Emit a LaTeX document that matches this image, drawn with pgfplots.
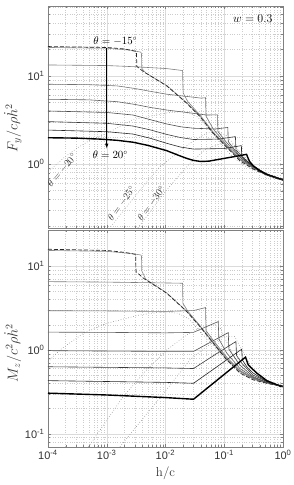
\documentclass[border=0pt]{standalone}
\usepackage{pgfplots}
\pgfplotsset{compat=1.18}
\usepackage{fontspec}
\newfontfamily\ticksf{Liberation Sans}
\pgfplotsset{
  mystyle/.style={
    scale only axis, width=235bp,
    xmin=1e-4, xmax=1,
    grid=both,
    major grid style={black!14, line width=0.45pt},
    minor grid style={black!20, dotted, line width=0.4pt},
    axis line style={black!50},
    tick style={black!50},
    tick align=inside,
    major tick length=3bp, minor tick length=1.6bp,
    xticklabel={\pgfmathtruncatemacro\e{round(\tick/ln(10))}10\textsuperscript{\e}},
    yticklabel={\pgfmathtruncatemacro\e{round(\tick/ln(10))}10\textsuperscript{\e}},
    tick label style={font=\ticksf\fontsize{11}{13}\selectfont, black!80},
    ylabel style={font=\fontsize{14}{16}\selectfont, black!80},
    xlabel style={font=\fontsize{13}{15}\selectfont, black!80},
  },
}
\tikzset{
  cA/.style={black!45, line width=0.6pt},
  cB/.style={black!50, line width=0.6pt},
  cC/.style={black!55, line width=0.6pt},
  cD/.style={black!62, line width=0.6pt},
  cE/.style={black!70, line width=0.6pt},
  cF/.style={black!77, line width=0.6pt},
  cG/.style={black!85, line width=0.6pt},
  cH/.style={black, line width=1.4pt},
  dsh/.style={black!85, line width=0.7pt, dash pattern=on 4bp off 2bp},
  dtd/.style={black!45, line width=0.6pt, dotted},
}
\begin{document}
\begin{tikzpicture}
\path[use as bounding box] (0,0) rectangle (294bp,-485bp);
% ---------------- top panel ----------------
\begin{axis}[xmode=log, ymode=log, mystyle, at={(48bp,-227.7bp)}, anchor=south west, height=221.7bp,
  ymin=0.19, ymax=62, xticklabels={},
  ylabel={$F_y/c\rho\dot{h}^2$},
  ylabel style={at={(rel axis cs:-0.15,0.45)}, anchor=center, rotate=0}]
\addplot[dtd] coordinates {(1e-4,0.82) (1.95e-4,1.21) (3.1e-4,1.51) (5.2e-4,1.87) (1e-3,2.23) (2.8e-3,3.2) (0.0105,3.8) (0.02,3.95) (0.034,3.5) (0.057,2.45) (0.085,1.75) (0.143,1.18) (0.24,0.93) (0.5,0.75) (1,0.66)};
\addplot[dtd] coordinates {(1e-3,0.165) (1.06e-3,0.18) (3.7e-3,0.51) (8e-3,0.93) (0.026,1.72) (0.05,2.25) (0.08,2.35) (0.11,2.1) (0.16,1.55) (0.24,1.12) (0.4,0.85) (1,0.66)};
\addplot[dtd] coordinates {(3e-3,0.17) (0.0105,0.51) (0.026,1.02) (0.05,1.5) (0.1,1.75) (0.14,1.65) (0.2,1.3) (0.3,0.98) (0.5,0.78) (1,0.66)};
\addplot[cA] coordinates {(1e-4,21.0) (1e-3,20.6) (2.5e-3,19.6) (3.8e-3,18.6) (3.9e-3,17.8) (3.95e-3,12.2) (4.6e-3,10.8) (0.0105,7.8) (0.023,4.95) (0.0386,3.5) (0.065,2.25) (0.11,1.58) (0.185,1.12) (0.31,0.9) (0.53,0.76) (1,0.665)};
\addplot[cB] coordinates {(1e-4,13.3) (1e-3,13.1) (3e-3,12.7) (0.0105,12.1) (0.0195,11.5) (0.0200,6.4) (0.024,5.1) (0.0386,3.6) (0.065,2.3) (0.11,1.6) (0.185,1.13) (0.31,0.9) (0.53,0.76) (1,0.665)};
\addplot[cC] coordinates {(1e-4,8.04) (5e-4,7.95) (1.5e-3,7.7) (3e-3,7.2) (5.4e-3,6.7) (0.0105,6.2) (0.023,5.85) (0.04,5.6) (0.048,5.65) (0.049,3.5) (0.065,2.5) (0.11,1.65) (0.185,1.15) (0.31,0.91) (0.53,0.77) (1,0.667)};
\addplot[cD] coordinates {(1e-4,5.43) (5e-4,5.35) (1.5e-3,5.1) (3e-3,4.75) (5.4e-3,4.4) (0.0105,4.1) (0.023,3.85) (0.05,3.6) (0.077,3.62) (0.078,2.35) (0.11,1.75) (0.185,1.2) (0.31,0.92) (0.53,0.77) (1,0.667)};
\addplot[cE] coordinates {(1e-4,4.0) (1e-3,3.85) (2.8e-3,3.6) (5.4e-3,3.2) (0.0105,2.85) (0.018,2.65) (0.03,2.55) (0.07,2.5) (0.115,2.6) (0.117,1.8) (0.15,1.45) (0.2,1.15) (0.31,0.93) (0.53,0.77) (1,0.667)};
\addplot[cF] coordinates {(1e-4,3.03) (1e-3,2.9) (2.8e-3,2.7) (5.4e-3,2.45) (0.0105,2.17) (0.018,2.0) (0.03,1.9) (0.08,1.92) (0.155,2.05) (0.158,1.45) (0.2,1.22) (0.25,1.07) (0.31,0.95) (0.53,0.77) (1,0.667)};
\addplot[cG] coordinates {(1e-4,2.43) (1e-3,2.33) (2.8e-3,2.19) (5.4e-3,1.97) (0.0105,1.72) (0.018,1.56) (0.03,1.48) (0.1,1.5) (0.196,1.62) (0.198,1.22) (0.24,1.08) (0.31,0.95) (0.53,0.77) (1,0.667)};
\addplot[cH] coordinates {(1e-4,1.99) (3e-4,1.97) (7.7e-4,1.92) (1.5e-3,1.86) (2.8e-3,1.77) (5e-3,1.63) (0.0105,1.42) (0.016,1.27) (0.023,1.16) (0.03,1.1) (0.04,1.07) (0.055,1.08) (0.074,1.12) (0.143,1.21) (0.24,1.29) (0.25,1.2) (0.27,1.07) (0.31,0.96) (0.4,0.84) (0.53,0.76) (0.75,0.7) (1,0.66)};
\addplot[dsh] coordinates {(1e-4,21.5) (1e-3,21.0) (2e-3,20.2) (3.1e-3,19.0) (3.2e-3,18.6) (3.25e-3,12.8) (4.2e-3,11.2) (0.0105,7.7) (0.023,4.9) (0.0386,3.45) (0.065,2.23) (0.11,1.55) (0.185,1.09) (0.31,0.88) (0.53,0.75) (1,0.66)};
\draw[black, line width=0.6pt, -latex] (axis cs:1e-3,20.8) -- (axis cs:1e-3,1.51);
\node[font=\fontsize{10.5}{12}\selectfont] at (axis cs:1.4e-3,24.5) {$\theta=-15^\circ$};
\node[font=\fontsize{10.5}{12}\selectfont] at (axis cs:1.15e-3,1.27) {$\theta=20^\circ$};
\node[font=\fontsize{10}{11}\selectfont, black!80, rotate=50] at (axis cs:1.75e-4,0.85) {$\theta=-20^\circ$};
\node[font=\fontsize{10}{11}\selectfont, black!80, rotate=54] at (axis cs:1.8e-3,0.36) {$\theta=-25^\circ$};
\node[font=\fontsize{10}{11}\selectfont, black!80, rotate=54] at (axis cs:5.8e-3,0.36) {$\theta=-30^\circ$};
\node[font=\fontsize{13}{15}\selectfont, anchor=north east] at (rel axis cs:0.97,0.975) {$w=0.3$};
\end{axis}
% ---------------- bottom panel ----------------
\begin{axis}[xmode=log, ymode=log, mystyle, at={(48bp,-446.7bp)}, anchor=south west, height=216.7bp,
  ymin=0.07, ymax=27,
  xlabel={h/c},
  ylabel={$M_z/c^2\rho\dot{h}^2$},
  ylabel style={at={(rel axis cs:-0.15,0.433)}, anchor=center, rotate=0}]
\addplot[dtd] coordinates {(1e-4,0.72) (1.6e-4,1.0) (4e-4,1.58) (1e-3,2.08) (3.7e-3,2.62) (9e-3,2.85) (0.016,2.75) (0.025,2.35) (0.04,1.6) (0.065,1.15) (0.11,0.76) (0.185,0.53) (0.31,0.44) (1,0.365)};
\addplot[dtd] coordinates {(4.9e-4,0.07) (1.9e-3,0.277) (4.8e-3,0.58) (0.0105,1.0) (0.023,1.51) (0.04,1.85) (0.065,2.0) (0.085,1.85) (0.11,1.25) (0.185,0.62) (0.31,0.46) (1,0.37)};
\addplot[dtd] coordinates {(1.68e-3,0.07) (6e-3,0.21) (0.012,0.38) (0.026,0.76) (0.05,1.1) (0.1,1.45) (0.15,1.45) (0.2,1.0) (0.3,0.6) (0.5,0.45) (1,0.37)};
\addplot[cA] coordinates {(1e-4,15.4) (1e-3,15.0) (2.5e-3,14.2) (3.8e-3,13.6) (3.9e-3,13.2) (3.95e-3,8.8) (4.6e-3,7.0) (0.0105,4.8) (0.023,2.9) (0.0386,1.92) (0.065,1.22) (0.11,0.78) (0.185,0.55) (0.31,0.45) (0.53,0.4) (1,0.367)};
\addplot[cB] coordinates {(1e-4,6.53) (1e-3,6.45) (0.0105,6.3) (0.0195,6.25) (0.0198,3.6) (0.024,2.9) (0.0386,1.95) (0.065,1.23) (0.11,0.79) (0.185,0.56) (0.31,0.455) (0.53,0.405) (1,0.367)};
\addplot[cC] coordinates {(1e-4,2.94) (1e-3,2.92) (0.01,2.88) (0.03,2.95) (0.048,3.2) (0.049,1.7) (0.065,1.3) (0.11,0.82) (0.185,0.57) (0.31,0.46) (0.53,0.41) (1,0.368)};
\addplot[cD] coordinates {(1e-4,1.63) (1e-3,1.62) (0.01,1.6) (0.03,1.62) (0.05,1.9) (0.079,2.18) (0.081,1.35) (0.11,0.92) (0.185,0.6) (0.31,0.47) (0.53,0.41) (1,0.368)};
\addplot[cE] coordinates {(1e-4,0.98) (1e-3,0.97) (0.01,0.96) (0.03,0.96) (0.06,1.25) (0.117,1.61) (0.12,1.02) (0.185,0.66) (0.31,0.48) (0.53,0.41) (1,0.368)};
\addplot[cF] coordinates {(1e-4,0.63) (1e-3,0.62) (0.01,0.61) (0.03,0.6) (0.07,0.88) (0.158,1.26) (0.162,0.86) (0.2,0.69) (0.31,0.5) (0.53,0.42) (1,0.368)};
\addplot[cG] coordinates {(1e-4,0.43) (1e-3,0.42) (0.01,0.41) (0.03,0.40) (0.08,0.65) (0.198,1.02) (0.203,0.76) (0.25,0.61) (0.31,0.53) (0.53,0.42) (1,0.368)};
\addplot[cH] coordinates {(1e-4,0.305) (1e-3,0.29) (0.01,0.27) (0.03,0.258) (0.08,0.45) (0.23,0.82) (0.257,0.66) (0.357,0.53) (0.53,0.43) (0.89,0.37) (1,0.365)};
\addplot[dsh] coordinates {(1e-4,15.9) (1e-3,15.4) (2e-3,14.6) (3.0e-3,13.9) (3.1e-3,13.6) (3.15e-3,8.6) (4.2e-3,7.2) (0.0105,4.75) (0.023,2.87) (0.0386,1.9) (0.065,1.2) (0.11,0.76) (0.185,0.53) (0.31,0.44) (0.53,0.4) (1,0.365)};
\end{axis}
\end{tikzpicture}
\end{document}
